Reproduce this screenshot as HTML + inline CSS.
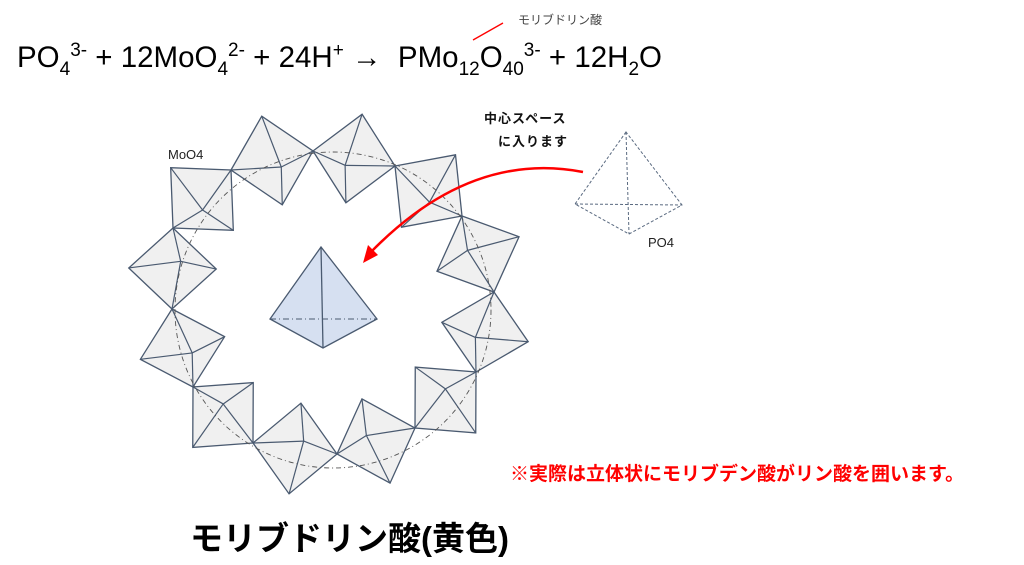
<!DOCTYPE html>
<html><head><meta charset="utf-8">
<style>
html,body{margin:0;padding:0;background:#fff;}
body{width:1024px;height:565px;overflow:hidden;position:relative;font-family:"Liberation Sans","Noto Sans CJK JP",sans-serif;}
.t{position:absolute;white-space:nowrap;}
.eq sub{font-size:19px;vertical-align:-8px}
.eq sup{font-size:19px;vertical-align:11px}
</style></head><body>
<svg id="s" width="1024" height="565" style="position:absolute;left:0;top:0">
<g id="ring"></g>
<circle cx="333" cy="310" r="158" fill="none" stroke="#555" stroke-width="0.9" stroke-dasharray="5,3,1,3"/>
<polygon points="321,247 270,319 323,348 377,319" fill="#d6e0f1" stroke="#4a5a70" stroke-width="1.3"/>
<line x1="321" y1="247" x2="323" y2="348" stroke="#4a5a70" stroke-width="1.3"/>
<line x1="270" y1="319" x2="377" y2="319" stroke="#4a5a70" stroke-width="1" stroke-dasharray="6,3,1,3"/>
<g stroke="#5a6a80" stroke-width="1" stroke-dasharray="3,2" fill="none">
<polygon points="626,132 575,204 629,234 682,205"/>
<line x1="626" y1="132" x2="629" y2="234"/>
<line x1="575" y1="204" x2="682" y2="205"/>
</g>
<path d="M583,172 Q470,150 370,253" fill="none" stroke="#f00" stroke-width="2.5"/>
<polygon points="363,263 368,245 378,255" fill="#f00"/>
<line x1="473" y1="40" x2="503" y2="23" stroke="#f00" stroke-width="1.3"/>
</svg>
<div class="t eq" style="left:17px;top:40px;font-size:29.5px;color:#000;">PO<sub>4</sub><sup>3-</sup> + 12MoO<sub>4</sub><sup>2-</sup> + 24H<sup>+</sup> &#8594;&nbsp; PMo<sub>12</sub>O<sub>40</sub><sup>3-</sup> + 12H<sub>2</sub>O</div>
<div class="t" style="left:518px;top:11px;font-size:12px;color:#444;">モリブドリン酸</div>
<div class="t" style="left:168px;top:147px;font-size:13px;color:#222;">MoO4</div>
<div class="t" style="left:648px;top:235px;font-size:13px;color:#222;">PO4</div>
<div class="t" style="left:484px;top:108px;font-size:13px;font-weight:bold;color:#111;letter-spacing:1px;">中心スペース</div>
<div class="t" style="left:498px;top:131px;font-size:13px;font-weight:bold;color:#111;letter-spacing:1px;">に入ります</div>
<div class="t" style="left:510px;top:459px;font-size:19px;font-weight:bold;color:#f00;">※実際は立体状にモリブデン酸がリン酸を囲います。</div>
<div class="t" style="left:190px;top:512px;font-size:33px;font-weight:bold;color:#000;">モリブドリン酸(黄色)</div>
<script>
var P=[[313,151],[395,166],[462,216],[494,292],[476,372],[415,428],[337,454],[253,443],[193,387],[172,309],[173,228],[231,170]];
var cx=333,cy=310,g=document.getElementById('ring'),h='';
for(var i=0;i<12;i++){
 var A=P[i],B=P[(i+1)%12];
 var mx=(A[0]+B[0])/2,my=(A[1]+B[1])/2;
 var hx=(B[0]-A[0])/2,hy=(B[1]-A[1])/2;
 var px=-hy,py=hx;
 if(px*(mx-cx)+py*(my-cy)<0){px=-px;py=-py;}
 var C=[mx+px*1.08,my+py*1.08],D=[mx-px*1.08,my-py*1.08];
 var s=(i%2?1:-1);
 var Q=[mx-px*0.2+hx*0.18*s,my-py*0.2+hy*0.18*s];
 h+='<polygon points="'+A+' '+C+' '+B+' '+D+'" fill="#f0f0f0" stroke="#4a5a70" stroke-width="1.3"/>';
 [A,B,C,D].forEach(function(v){h+='<line x1="'+v[0]+'" y1="'+v[1]+'" x2="'+Q[0]+'" y2="'+Q[1]+'" stroke="#4a5a70" stroke-width="1.2"/>';});
}
g.innerHTML=h;
</script>
</body></html>
